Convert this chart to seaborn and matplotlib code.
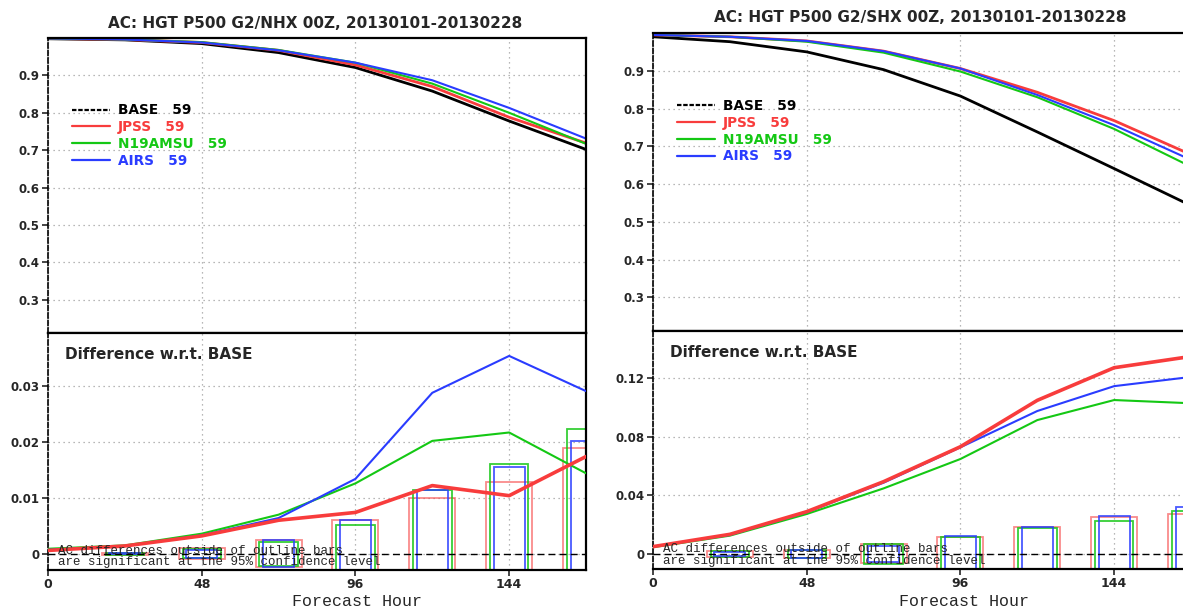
import numpy as np
import pandas as pd
import matplotlib
matplotlib.use("Agg")
import matplotlib.pyplot as plt
import seaborn as sns
from matplotlib.lines import Line2D

# ---------------- data ----------------
hours = [0, 24, 48, 72, 96, 120, 144, 168]
experiments = ["BASE", "JPSS", "N19AMSU", "AIRS"]
n_cases = [59, 59, 59, 59]

# NHX anomaly correlation
nhx_base = [0.998, 0.995, 0.985, 0.961, 0.921, 0.858, 0.778, 0.702]
nhx_jpss = [0.999, 0.996, 0.988, 0.967, 0.928, 0.870, 0.788, 0.719]
nhx_n19 = [0.999, 0.996, 0.989, 0.968, 0.934, 0.878, 0.800, 0.717]
nhx_airs = [0.999, 0.996, 0.988, 0.967, 0.934, 0.887, 0.813, 0.731]
# NHX difference w.r.t. BASE
nhx_diff_jpss = [0.0006, 0.0014, 0.0032, 0.0060, 0.0074, 0.0122, 0.0104, 0.0174]
nhx_diff_n19 = [0.0009, 0.0015, 0.0036, 0.0070, 0.0126, 0.0202, 0.0217, 0.0144]
nhx_diff_airs = [0.0007, 0.0014, 0.0033, 0.0064, 0.0134, 0.0288, 0.0354, 0.0291]
# NHX 95% significance half-heights
nhx_sig_jpss = [0.0, 0.0002, 0.0010, 0.0024, 0.0060, 0.0099, 0.0129, 0.0190]
nhx_sig_n19 = [0.0, 0.0002, 0.0008, 0.0021, 0.0052, 0.0115, 0.0160, 0.0224]
nhx_sig_airs = [0.0, 0.0001, 0.0007, 0.0024, 0.0061, 0.0115, 0.0155, 0.0202]

# SHX anomaly correlation
shx_base = [0.990, 0.977, 0.950, 0.903, 0.833, 0.738, 0.641, 0.543]
shx_jpss = [0.995, 0.990, 0.979, 0.952, 0.906, 0.843, 0.768, 0.678]
shx_n19 = [0.995, 0.990, 0.977, 0.948, 0.898, 0.830, 0.746, 0.646]
shx_airs = [0.995, 0.990, 0.979, 0.952, 0.906, 0.836, 0.756, 0.664]
# SHX difference w.r.t. BASE
shx_diff_jpss = [0.0050, 0.0134, 0.0289, 0.0494, 0.0733, 0.1050, 0.1273, 0.1350]
shx_diff_n19 = [0.0046, 0.0125, 0.0273, 0.0448, 0.0649, 0.0915, 0.1052, 0.1030]
shx_diff_airs = [0.0050, 0.0130, 0.0285, 0.0487, 0.0729, 0.0977, 0.1147, 0.1210]
# SHX 95% significance half-heights
shx_sig_jpss = [0.0, 0.0023, 0.0030, 0.0065, 0.0114, 0.0187, 0.0250, 0.0273]
shx_sig_n19 = [0.0, 0.0020, 0.0025, 0.0066, 0.0118, 0.0175, 0.0228, 0.0296]
shx_sig_airs = [0.0, 0.0015, 0.0027, 0.0055, 0.0125, 0.0187, 0.0260, 0.0319]

x_ticks = [0, 48, 96, 144]
x_ticklabels = ["0", "48", "96", "144"]
ac_ticks = [0.3, 0.4, 0.5, 0.6, 0.7, 0.8, 0.9]
ac_ticklabels = ["0.3", "0.4", "0.5", "0.6", "0.7", "0.8", "0.9"]
nhx_diff_ticks = [0, 0.01, 0.02, 0.03]
nhx_diff_ticklabels = ["0", "0.01", "0.02", "0.03"]
shx_diff_ticks = [0, 0.04, 0.08, 0.12]
shx_diff_ticklabels = ["0", "0.04", "0.08", "0.12"]

titles = ["AC: HGT P500 G2/NHX 00Z, 20130101-20130228",
          "AC: HGT P500 G2/SHX 00Z, 20130101-20130228"]

# ---------------- style ----------------
sns.set_style("white")
plt.rcParams["font.family"] = ["DejaVu Sans"]

colors = {"BASE": "#000000", "JPSS": "#f83c3c", "N19AMSU": "#14c814", "AIRS": "#2a3cff"}
bar_colors = {"JPSS": (0.97, 0.30, 0.30, 0.65), "N19AMSU": (0.08, 0.78, 0.08, 0.85),
              "AIRS": (0.16, 0.24, 1.0, 0.85)}
bar_halfwidth = {"JPSS": 7.2, "N19AMSU": 6.0, "AIRS": 4.8}
top_lw = {"BASE": 2.0, "JPSS": 2.0, "N19AMSU": 1.5, "AIRS": 1.5}
diff_lw = {"JPSS": 2.6, "N19AMSU": 1.5, "AIRS": 1.5}

W, H = 1183, 608
fig = plt.figure(figsize=(W / 100, H / 100), dpi=100)


def pos(x0, y0, x1, y1):
    return [x0 / W, 1 - y1 / H, (x1 - x0) / W, (y1 - y0) / H]


panels = [
    dict(title=titles[0], title_xy=(315, 23),
         ac=[nhx_base, nhx_jpss, nhx_n19, nhx_airs],
         diff=[nhx_diff_jpss, nhx_diff_n19, nhx_diff_airs],
         sig=[nhx_sig_jpss, nhx_sig_n19, nhx_sig_airs],
         top=pos(48, 38, 586, 333), bot=pos(48, 333, 586, 570),
         dlim=(-0.0029, 0.0395), dticks=nhx_diff_ticks, dlabels=nhx_diff_ticklabels,
         xlabel_x=357),
    dict(title=titles[1], title_xy=(920, 17),
         ac=[shx_base, shx_jpss, shx_n19, shx_airs],
         diff=[shx_diff_jpss, shx_diff_n19, shx_diff_airs],
         sig=[shx_sig_jpss, shx_sig_n19, shx_sig_airs],
         top=pos(653, 33, 1191, 331), bot=pos(653, 331, 1191, 569),
         dlim=(-0.0103, 0.1524), dticks=shx_diff_ticks, dlabels=shx_diff_ticklabels,
         xlabel_x=964),
]

grid_kw = dict(color="#a0a0a0", linestyle=(0, (1, 3)), linewidth=0.9)
tick_font = dict(fontsize=8.5, fontweight="bold", family="DejaVu Sans")

for p in panels:
    # ---------- top panel: anomaly correlation ----------
    ax = fig.add_axes(p["top"])
    df = pd.DataFrame({"hour": np.tile(hours, len(experiments)),
                       "ac": np.concatenate(p["ac"]),
                       "exp": np.repeat(experiments, len(hours))})
    for e in experiments:
        sns.lineplot(data=df[df["exp"] == e], x="hour", y="ac", color=colors[e],
                     linewidth=top_lw[e], ax=ax, legend=False)
    ax.set_xlim(0, 168)
    ax.set_ylim(0.211, 1.0)
    ax.set_xticks(x_ticks)
    ax.set_xticklabels([])
    ax.set_yticks(ac_ticks, ac_ticklabels, **tick_font)
    ax.tick_params(axis="x", length=0)
    ax.tick_params(axis="y", length=4, width=1.2, pad=2, direction="out", left=True)
    ax.grid(True, **grid_kw)
    ax.set_xlabel("")
    ax.set_ylabel("")
    for s in ax.spines.values():
        s.set_linewidth(1.6)
        s.set_color("black")
    ax.spines["left"].set_linestyle((0, (3, 1.5)))
    ax.spines["left"].set_linewidth(1.2)

    handles = [Line2D([], [], color=colors[e], lw=1.6,
                      ls=(0, (2, 0.8)) if e == "BASE" else "-") for e in experiments]
    labels = [f"{e}   {n}" for e, n in zip(experiments, n_cases)]
    leg = ax.legend(handles, labels, loc="upper left", bbox_to_anchor=(0.045, 0.778),
                    frameon=False, borderpad=0, borderaxespad=0, handlelength=2.8,
                    handletextpad=0.55, labelspacing=0.2,
                    prop=dict(family="DejaVu Sans", weight="bold", size=9.8))
    for t, e in zip(leg.get_texts(), experiments):
        t.set_color(colors[e])

    fig.text(p["title_xy"][0] / W, 1 - p["title_xy"][1] / H, p["title"],
             ha="center", va="center", fontsize=11, fontweight="bold",
             family="DejaVu Sans")

    # ---------- bottom panel: difference ----------
    bx = fig.add_axes(p["bot"])
    for e, sig in zip(experiments[1:], p["sig"]):
        sig = np.asarray(sig)
        keep = sig > 0
        bx.bar(np.asarray(hours)[keep], 2 * sig[keep], bottom=-sig[keep],
               width=2 * bar_halfwidth[e], fill=False, edgecolor=bar_colors[e],
               linewidth=1.3, zorder=2)
    ddf = pd.DataFrame({"hour": np.tile(hours, 3),
                        "diff": np.concatenate(p["diff"]),
                        "exp": np.repeat(experiments[1:], len(hours))})
    for e in ["N19AMSU", "AIRS", "JPSS"]:
        sns.lineplot(data=ddf[ddf["exp"] == e], x="hour", y="diff", color=colors[e],
                     linewidth=diff_lw[e], ax=bx, legend=False, zorder=3)
    bx.axhline(0, color="black", linestyle=(0, (5, 3)), linewidth=1.0, zorder=2.5)
    bx.set_xlim(0, 168)
    bx.set_ylim(*p["dlim"])
    bx.set_xticks(x_ticks, x_ticklabels, fontsize=9, fontweight="bold", family="DejaVu Sans")
    bx.set_yticks(p["dticks"], p["dlabels"], **tick_font)
    bx.tick_params(axis="x", length=4, width=1.2, pad=2, direction="out", bottom=True)
    bx.tick_params(axis="y", length=4, width=1.2, pad=2, direction="out", left=True)
    bx.grid(True, **grid_kw)
    bx.set_xlabel("")
    bx.set_ylabel("")
    for s in bx.spines.values():
        s.set_linewidth(1.6)
        s.set_color("black")
    bx.spines["left"].set_linestyle((0, (3, 1.5)))
    bx.spines["left"].set_linewidth(1.2)

    bx.text(0.032, 0.91, "Difference w.r.t. BASE", transform=bx.transAxes,
            ha="left", va="center", fontsize=11, fontweight="bold", family="DejaVu Sans")
    bx.text(0.019, 0.082, "AC differences outside of outline bars", transform=bx.transAxes,
            ha="left", va="center", fontsize=9, family="Liberation Mono", zorder=5)
    bx.text(0.019, 0.035, "are significant at the 95% confidence level", transform=bx.transAxes,
            ha="left", va="center", fontsize=9, family="Liberation Mono", zorder=5)

    fig.text(p["xlabel_x"] / W, 1 - 601 / H, "Forecast Hour", ha="center", va="center",
             fontsize=12, family="Liberation Mono")

fig.savefig("out.png", dpi=100)
